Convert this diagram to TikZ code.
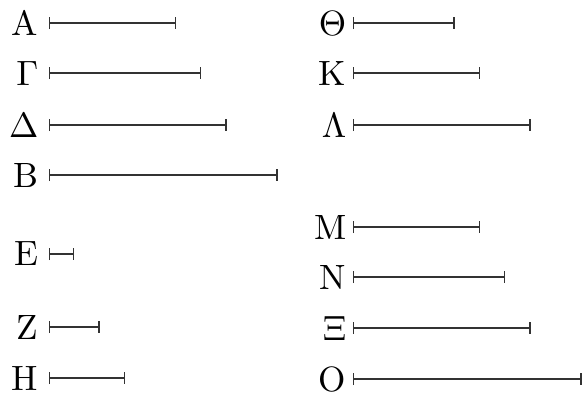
\documentclass[tikz,border=0pt]{standalone}
\usetikzlibrary{arrows.meta}
\tikzset{
  seg/.style={{Bar[width=2.4mm]}-{Bar[width=2.4mm]}, draw=black!80, line width=0.8pt},
  lbl/.style={anchor=east, inner sep=#1, scale=2}
}
\begin{document}
\begin{tikzpicture}[font=\normalsize, line join=round]
		\useasboundingbox (0,0) rectangle (11.7,-7.88);
		% left column
		\foreach \n/\t/\l/\y in {A/A/5/-0.46, G/$\Gamma$/6/-1.46, D/$\Delta$/7/-2.5, B/B/9/-3.5, E/E/1/-5.08, Z/Z/2/-6.54, H/H/3/-7.56}{
		\path (0.98,\y) coordinate (\n0) ++(\l*0.508,0) coordinate (\n1);
		\node[lbl=0.1cm] (\n) at (\n0) {\t};
		\draw[seg] (\n0) -- (\n1);
		}
		% right column
		\foreach \n/\t/\l/\y in {Th/$\Theta$/4/-0.46, K/K/5/-1.46, L/$\Lambda$/7/-2.5, M/M/5/-4.54, N/N/6/-5.54, X/$\Xi$/7/-6.56, O/O/9/-7.58}{
		\path (7.06,\y) coordinate (\n0) ++(\l*0.508,0) coordinate (\n1);
		\node[lbl=0.06cm] (\n) at (\n0) {\t};
		\draw[seg] (\n0) -- (\n1);
		}
	\end{tikzpicture}
\end{document}
